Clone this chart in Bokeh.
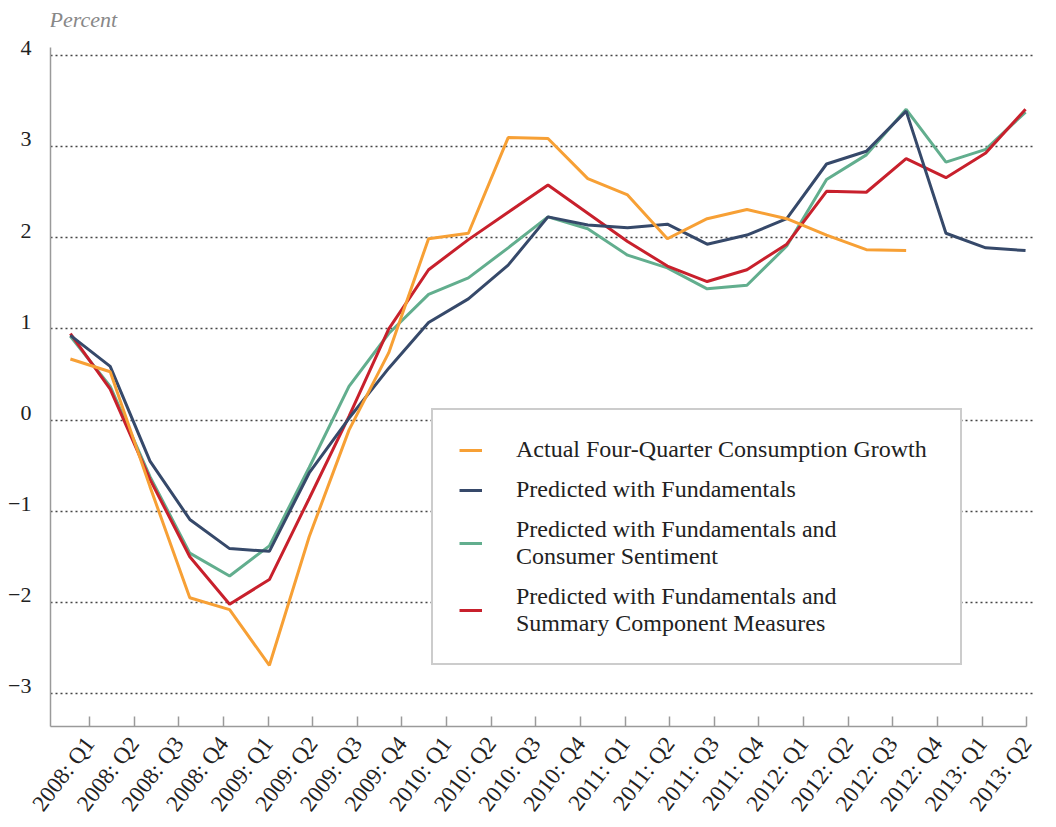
import numpy as np
from bokeh.plotting import figure
from bokeh.models import (Range1d, FixedTicker, CustomJSTickFormatter, Legend, LegendItem, Label)
from bokeh.embed import file_html
from bokeh.resources import INLINE

# ---- data ----
quarter_labels = ["2008: Q1", "2008: Q2", "2008: Q3", "2008: Q4",
                  "2009: Q1", "2009: Q2", "2009: Q3", "2009: Q4",
                  "2010: Q1", "2010: Q2", "2010: Q3", "2010: Q4",
                  "2011: Q1", "2011: Q2", "2011: Q3", "2011: Q4",
                  "2012: Q1", "2012: Q2", "2012: Q3", "2012: Q4",
                  "2013: Q1", "2013: Q2"]

actual_growth = [0.67, 0.53, -0.73, -1.95, -2.08, -2.69, -1.28, -0.11, 0.74, 1.99, 2.05,
                 3.10, 3.09, 2.65, 2.47, 1.99, 2.21, 2.31, 2.21, 2.03, 1.87, 1.86]
pred_fundamentals = [0.93, 0.59, -0.45, -1.09, -1.41, -1.44, -0.58, 0.02, 0.57, 1.07, 1.33,
                     1.70, 2.23, 2.14, 2.11, 2.15, 1.93, 2.03, 2.21, 2.81, 2.95, 3.39,
                     2.05, 1.89, 1.86]
pred_sentiment = [0.92, 0.37, -0.62, -1.46, -1.71, -1.38, -0.52, 0.37, 0.95, 1.38, 1.56,
                  1.89, 2.23, 2.10, 1.81, 1.67, 1.44, 1.48, 1.91, 2.64, 2.91, 3.41,
                  2.83, 2.97, 3.38]
pred_components = [0.95, 0.34, -0.65, -1.50, -2.02, -1.75, -0.86, 0.04, 1.00, 1.65, 1.98,
                   2.28, 2.58, 2.27, 1.96, 1.69, 1.52, 1.65, 1.93, 2.51, 2.50, 2.87,
                   2.66, 2.93, 3.41]

series_names = ["Actual Four-Quarter Consumption Growth",
                "Predicted with Fundamentals",
                "Predicted with Fundamentals and\nConsumer Sentiment",
                "Predicted with Fundamentals and\nSummary Component Measures"]
y_ticks = [-3, -2, -1, 0, 1, 2, 3, 4]
unit_label = "Percent"

# ---- styles ----
C_ORANGE = "#F7A035"
C_NAVY = "#36496A"
C_GREEN = "#62AE8E"
C_RED = "#C8202C"
FONT = "Liberation Serif"
AXIS_GREY = "#9a9a9a"

x_act = np.arange(len(actual_growth))
x_pred = np.arange(len(pred_fundamentals))

X0, X1 = -0.5, 24.2
Y0, Y1 = -3.362, 4.56
Y_TOP = max(y_ticks)

p = figure(width=1050, height=827,
           x_range=Range1d(X0, X1), y_range=Range1d(Y0, Y1),
           output_backend="svg", toolbar_location=None,
           min_border_left=50, min_border_right=17,
           min_border_top=4, min_border_bottom=101)
p.title.visible = False
p.outline_line_color = None
p.background_fill_color = "white"

# "Percent" unit label above the top gridline
p.add_layout(Label(x=X0, y=Y_TOP, x_units="data", y_units="data",
                   x_offset=-1, y_offset=36, text=unit_label,
                   text_font=FONT, text_font_style="italic",
                   text_font_size="22px", text_color="#888888",
                   text_baseline="alphabetic", text_align="left"))

# lines (drawing order)
r_green = p.line(x_pred, pred_sentiment, line_color=C_GREEN, line_width=3)
r_red = p.line(x_pred, pred_components, line_color=C_RED, line_width=3)
r_navy = p.line(x_pred, pred_fundamentals, line_color=C_NAVY, line_width=3)
r_orange = p.line(x_act, actual_growth, line_color=C_ORANGE, line_width=3)

# y axis: labels sit just above their gridline
lab_shift = 0.08
p.yaxis.ticker = FixedTicker(ticks=[v + lab_shift for v in y_ticks])
p.yaxis.formatter = CustomJSTickFormatter(
    code="const v = Math.round(tick); return v < 0 ? '\u2212' + Math.abs(v) : String(v);")
p.yaxis.bounds = (Y0, Y_TOP + 0.09)
p.yaxis.major_tick_line_color = None
p.yaxis.minor_tick_line_color = None
p.yaxis.axis_line_color = AXIS_GREY
p.yaxis.axis_line_width = 1.5
p.yaxis.major_label_standoff = 13
p.yaxis.major_label_text_font = FONT
p.yaxis.major_label_text_font_size = "22px"
p.yaxis.major_label_text_color = "#222222"

# y grid dotted
p.ygrid.ticker = FixedTicker(ticks=y_ticks)
p.ygrid.grid_line_color = "#444444"
p.ygrid.grid_line_dash = "2 3"
p.ygrid.grid_line_width = 1.3
p.xgrid.visible = False

# x axis: quarter labels at evenly spaced ticks
n_lab = len(quarter_labels)
t0, t1 = 0.48, 24.03
step = (t1 - t0) / (n_lab - 1)
tick_pos = [t0 + i * step for i in range(n_lab)]
p.xaxis.ticker = FixedTicker(ticks=tick_pos)
p.xaxis.formatter = CustomJSTickFormatter(
    args=dict(labels=quarter_labels, t0=t0, step=step),
    code="const i = Math.round((tick - t0) / step); return labels[i] || '';")
p.xaxis.bounds = (X0, t1)
p.xaxis.major_tick_in = 10
p.xaxis.major_tick_out = 0
p.xaxis.major_tick_line_color = AXIS_GREY
p.xaxis.major_tick_line_width = 1.5
p.xaxis.minor_tick_line_color = None
p.xaxis.axis_line_color = AXIS_GREY
p.xaxis.axis_line_width = 1.5
p.xaxis.major_label_orientation = 0.92
p.xaxis.major_label_standoff = 13
p.xaxis.major_label_text_font = FONT
p.xaxis.major_label_text_font_size = "23px"
p.xaxis.major_label_text_color = "#222222"

# legend
legend = Legend(items=[
    LegendItem(label=series_names[0], renderers=[r_orange]),
    LegendItem(label=series_names[1], renderers=[r_navy]),
    LegendItem(label=series_names[2], renderers=[r_green]),
    LegendItem(label=series_names[3], renderers=[r_red]),
], location=(381, 61))
legend.border_line_color = "#999999"
legend.border_line_width = 2.5
legend.background_fill_color = "white"
legend.background_fill_alpha = 1.0
legend.padding = 26
legend.spacing = 13
legend.margin = 0
legend.glyph_width = 23
legend.label_standoff = 34
legend.label_width = 418
legend.label_text_font = FONT
legend.label_text_font_size = "24px"
legend.label_text_color = "#222222"
p.add_layout(legend, "center")

open("out.html", "w").write(file_html(p, INLINE))
